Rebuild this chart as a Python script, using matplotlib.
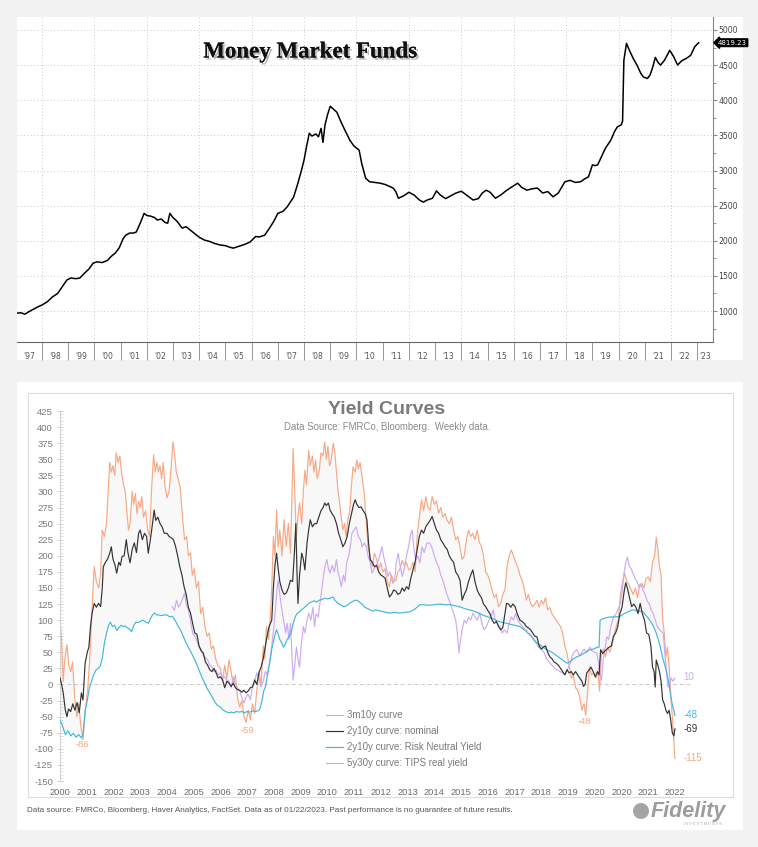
import numpy as np
import matplotlib
matplotlib.use("Agg")
import matplotlib.pyplot as plt
from matplotlib import patheffects
from matplotlib.patches import Rectangle, Ellipse

plt.rcParams["axes.unicode_minus"] = False

# ---- top panel: money market fund assets ($bn) ----
mmf_pts = [
    (1997.05, 970), (1997.2, 975), (1997.35, 955), (1997.5, 990), (1997.7, 1030), (1997.85, 1060),
    (1998.0, 1085), (1998.2, 1130), (1998.4, 1200), (1998.6, 1250), (1998.8, 1360), (1998.95, 1440),
    (1999.1, 1470), (1999.3, 1460), (1999.45, 1470), (1999.6, 1530), (1999.8, 1600), (1999.95, 1680),
    (2000.1, 1700), (2000.3, 1690), (2000.5, 1720), (2000.65, 1780), (2000.8, 1825), (2000.95, 1900),
    (2001.1, 2030), (2001.2, 2080), (2001.35, 2110), (2001.5, 2110), (2001.6, 2125), (2001.75, 2250),
    (2001.9, 2390), (2002.0, 2360), (2002.15, 2350), (2002.3, 2330), (2002.4, 2295), (2002.55, 2310),
    (2002.7, 2260), (2002.8, 2250), (2002.88, 2390), (2003.0, 2330), (2003.15, 2280), (2003.35, 2180),
    (2003.5, 2200), (2003.7, 2140), (2004.0, 2050), (2004.2, 2010), (2004.4, 1990), (2004.6, 1960),
    (2004.8, 1940), (2005.0, 1930), (2005.15, 1910), (2005.3, 1895), (2005.5, 1920), (2005.75, 1950),
    (2005.95, 1985), (2006.15, 2060), (2006.3, 2055), (2006.5, 2080), (2006.7, 2190), (2006.85, 2280),
    (2007.0, 2390), (2007.2, 2420), (2007.35, 2480), (2007.6, 2620), (2007.75, 2800), (2007.9, 3000),
    (2008.0, 3150), (2008.1, 3350), (2008.2, 3530), (2008.3, 3490), (2008.45, 3520), (2008.55, 3480),
    (2008.65, 3600), (2008.72, 3400), (2008.8, 3650), (2008.9, 3800), (2009.0, 3915), (2009.1, 3880),
    (2009.25, 3830), (2009.4, 3700), (2009.55, 3580), (2009.75, 3430), (2009.9, 3350), (2010.1, 3290),
    (2010.2, 3100), (2010.35, 2890), (2010.5, 2840), (2010.7, 2830), (2010.9, 2820), (2011.1, 2800),
    (2011.4, 2750), (2011.5, 2700), (2011.6, 2605), (2011.8, 2640), (2012.0, 2690), (2012.2, 2650),
    (2012.4, 2580), (2012.55, 2550), (2012.7, 2580), (2012.9, 2605), (2013.05, 2710), (2013.2, 2650),
    (2013.4, 2600), (2013.6, 2640), (2013.8, 2680), (2014.0, 2705), (2014.2, 2650), (2014.45, 2580),
    (2014.65, 2600), (2014.8, 2680), (2014.95, 2720), (2015.1, 2690), (2015.3, 2605), (2015.5, 2650),
    (2015.7, 2710), (2015.9, 2760), (2016.15, 2820), (2016.3, 2760), (2016.5, 2720), (2016.7, 2740),
    (2016.9, 2750), (2017.1, 2680), (2017.3, 2700), (2017.5, 2625), (2017.7, 2680), (2017.95, 2840),
    (2018.15, 2860), (2018.35, 2830), (2018.55, 2840), (2018.7, 2880), (2018.85, 2910), (2019.0, 3080),
    (2019.1, 3070), (2019.2, 3080), (2019.35, 3200), (2019.5, 3320), (2019.7, 3430), (2019.85, 3560),
    (2019.95, 3620), (2020.1, 3650), (2020.15, 3700), (2020.2, 4570), (2020.3, 4810), (2020.4, 4720),
    (2020.55, 4600), (2020.7, 4500), (2020.85, 4380), (2020.95, 4330), (2021.1, 4310), (2021.2, 4360),
    (2021.3, 4470), (2021.4, 4610), (2021.5, 4540), (2021.6, 4500), (2021.75, 4570), (2021.95, 4710),
    (2022.1, 4620), (2022.25, 4500), (2022.4, 4560), (2022.6, 4600), (2022.75, 4640), (2022.9, 4760),
    (2023.05, 4819.23),
]
mmf_last = "4819.23"
mmf_year_labels = ["'97", "'98", "'99", "'00", "'01", "'02", "'03", "'04", "'05", "'06", "'07", "'08", "'09",
                   "'10", "'11", "'12", "'13", "'14", "'15", "'16", "'17", "'18", "'19", "'20", "'21", "'22", "'23"]

# ---- bottom panel: yield curve spreads (bp) ----
m3y10_pts = [
    (2000.00, 100), (2000.06, 69), (2000.12, 5), (2000.18, 40), (2000.26, 62), (2000.33, 30), (2000.40, 20),
    (2000.47, 35), (2000.55, -20), (2000.63, -50), (2000.70, -30), (2000.78, -65), (2000.86, -86), (2000.95, -40),
    (2001.04, -5), (2001.12, 45), (2001.20, 120), (2001.28, 183), (2001.36, 160), (2001.45, 150), (2001.52, 175),
    (2001.58, 240), (2001.66, 230), (2001.74, 250), (2001.80, 300), (2001.86, 345), (2001.92, 330), (2001.98, 340),
    (2002.05, 325), (2002.10, 360), (2002.17, 345), (2002.24, 355), (2002.30, 330), (2002.38, 310), (2002.44, 300),
    (2002.50, 270), (2002.56, 240), (2002.62, 250), (2002.70, 300), (2002.76, 280), (2002.82, 297), (2002.88, 265),
    (2002.94, 285), (2003.00, 275), (2003.06, 292), (2003.12, 260), (2003.20, 270), (2003.28, 240), (2003.35, 230),
    (2003.42, 300), (2003.50, 357), (2003.56, 330), (2003.62, 345), (2003.68, 330), (2003.74, 340), (2003.80, 320),
    (2003.86, 345), (2003.92, 310), (2004.00, 290), (2004.08, 300), (2004.16, 340), (2004.22, 377), (2004.28, 360),
    (2004.35, 330), (2004.42, 320), (2004.50, 305), (2004.58, 260), (2004.66, 225), (2004.74, 230), (2004.80, 200),
    (2004.88, 205), (2004.95, 170), (2005.02, 180), (2005.10, 150), (2005.18, 160), (2005.26, 110), (2005.34, 120),
    (2005.42, 90), (2005.50, 75), (2005.58, 80), (2005.66, 55), (2005.74, 60), (2005.82, 40), (2005.90, 30),
    (2006.00, 25), (2006.08, 5), (2006.16, 30), (2006.24, 10), (2006.32, 38), (2006.40, 20), (2006.48, 0),
    (2006.56, 15), (2006.64, -20), (2006.72, -35), (2006.80, -25), (2006.88, -50), (2006.96, -59), (2007.04, -40),
    (2007.12, -55), (2007.20, -30), (2007.28, -45), (2007.36, -10), (2007.44, 20), (2007.52, 0), (2007.60, 60),
    (2007.66, 40), (2007.72, 90), (2007.80, 70), (2007.86, 100), (2007.92, 150), (2007.98, 230), (2008.04, 200),
    (2008.10, 271), (2008.16, 214), (2008.22, 240), (2008.30, 200), (2008.38, 256), (2008.46, 215), (2008.54, 250),
    (2008.62, 204), (2008.68, 300), (2008.72, 367), (2008.78, 300), (2008.84, 230), (2008.90, 260), (2008.96, 282),
    (2009.04, 250), (2009.10, 300), (2009.16, 333), (2009.22, 310), (2009.30, 364), (2009.36, 340), (2009.44, 355),
    (2009.50, 330), (2009.56, 349), (2009.62, 320), (2009.70, 333), (2009.76, 360), (2009.84, 355), (2009.90, 377),
    (2009.96, 350), (2010.02, 370), (2010.08, 340), (2010.14, 349), (2010.22, 375), (2010.28, 360), (2010.34, 330),
    (2010.40, 300), (2010.46, 282), (2010.52, 260), (2010.58, 240), (2010.64, 250), (2010.70, 230), (2010.76, 256),
    (2010.84, 270), (2010.90, 310), (2010.96, 338), (2011.04, 330), (2011.10, 349), (2011.16, 335), (2011.22, 345),
    (2011.30, 322), (2011.38, 297), (2011.46, 250), (2011.52, 214), (2011.60, 200), (2011.68, 183), (2011.76, 204),
    (2011.84, 195), (2011.92, 180), (2012.00, 189), (2012.08, 175), (2012.16, 180), (2012.24, 160), (2012.32, 152),
    (2012.40, 170), (2012.48, 160), (2012.56, 162), (2012.64, 175), (2012.72, 180), (2012.80, 193), (2012.88, 185),
    (2012.96, 190), (2013.04, 178), (2013.12, 180), (2013.20, 190), (2013.28, 175), (2013.36, 230), (2013.44, 260),
    (2013.52, 287), (2013.60, 270), (2013.68, 292), (2013.76, 275), (2013.84, 271), (2013.92, 292), (2014.00, 280),
    (2014.08, 285), (2014.16, 266), (2014.24, 275), (2014.32, 260), (2014.40, 266), (2014.48, 255), (2014.56, 250),
    (2014.64, 260), (2014.72, 240), (2014.80, 225), (2014.88, 230), (2014.96, 214), (2015.04, 194), (2015.12, 200),
    (2015.20, 225), (2015.28, 240), (2015.36, 230), (2015.44, 235), (2015.52, 225), (2015.60, 240), (2015.68, 221),
    (2015.76, 215), (2015.84, 200), (2015.92, 175), (2016.00, 170), (2016.08, 160), (2016.16, 147), (2016.24, 135),
    (2016.32, 140), (2016.40, 121), (2016.48, 126), (2016.56, 140), (2016.64, 147), (2016.72, 183), (2016.80, 200),
    (2016.88, 209), (2016.96, 200), (2017.04, 190), (2017.12, 183), (2017.20, 170), (2017.28, 162), (2017.36, 150),
    (2017.44, 131), (2017.52, 140), (2017.60, 126), (2017.68, 121), (2017.76, 125), (2017.84, 131), (2017.92, 120),
    (2018.00, 131), (2018.08, 125), (2018.16, 135), (2018.24, 116), (2018.32, 120), (2018.40, 110), (2018.48, 105),
    (2018.56, 100), (2018.64, 95), (2018.72, 90), (2018.80, 80), (2018.88, 60), (2018.96, 49), (2019.04, 30),
    (2019.12, 10), (2019.20, 15), (2019.28, -5), (2019.36, -9), (2019.44, -20), (2019.52, -40), (2019.60, -30),
    (2019.66, -48), (2019.72, -20), (2019.80, 27), (2019.88, 15), (2019.96, 18), (2020.04, 10), (2020.12, 20),
    (2020.18, -10), (2020.24, 43), (2020.32, 55), (2020.40, 43), (2020.48, 58), (2020.56, 50), (2020.64, 60),
    (2020.72, 75), (2020.80, 90), (2020.88, 100), (2020.96, 140), (2021.04, 160), (2021.12, 173), (2021.20, 160),
    (2021.28, 155), (2021.36, 147), (2021.44, 140), (2021.52, 150), (2021.60, 135), (2021.68, 155), (2021.76, 157),
    (2021.84, 150), (2021.92, 165), (2022.00, 167), (2022.08, 160), (2022.16, 190), (2022.24, 200), (2022.30, 229),
    (2022.36, 210), (2022.42, 183), (2022.48, 170), (2022.54, 100), (2022.60, 80), (2022.66, 43), (2022.72, 58),
    (2022.78, 30), (2022.84, -13), (2022.90, -50), (2022.96, -90), (2023.00, -115),
]
nominal_pts = [
    (2000.00, 10), (2000.06, 0), (2000.12, -13), (2000.20, -40), (2000.26, -50), (2000.32, -38), (2000.40, -42),
    (2000.48, -30), (2000.56, -40), (2000.64, -28), (2000.72, -44), (2000.80, -13), (2000.86, -24), (2000.94, 33),
    (2001.02, 50), (2001.08, 58), (2001.14, 90), (2001.20, 111), (2001.28, 126), (2001.36, 120), (2001.44, 126),
    (2001.52, 121), (2001.58, 150), (2001.62, 183), (2001.70, 190), (2001.78, 195), (2001.86, 204), (2001.92, 214),
    (2001.98, 195), (2002.06, 185), (2002.12, 173), (2002.20, 190), (2002.26, 185), (2002.32, 199), (2002.40, 200),
    (2002.48, 225), (2002.54, 205), (2002.62, 189), (2002.70, 210), (2002.78, 220), (2002.86, 205), (2002.94, 235),
    (2003.00, 240), (2003.08, 225), (2003.16, 235), (2003.24, 230), (2003.30, 204), (2003.38, 225), (2003.46, 250),
    (2003.52, 271), (2003.58, 255), (2003.66, 260), (2003.74, 250), (2003.82, 245), (2003.90, 235), (2004.00, 235),
    (2004.08, 230), (2004.16, 228), (2004.24, 225), (2004.32, 215), (2004.40, 200), (2004.48, 183), (2004.56, 170),
    (2004.64, 152), (2004.72, 140), (2004.80, 120), (2004.88, 111), (2004.96, 95), (2005.04, 80), (2005.12, 78),
    (2005.20, 60), (2005.28, 52), (2005.36, 49), (2005.44, 35), (2005.52, 30), (2005.60, 23), (2005.68, 20),
    (2005.76, 25), (2005.84, 18), (2005.92, 10), (2006.00, 12), (2006.08, 7), (2006.16, -5), (2006.24, 5),
    (2006.32, 2), (2006.40, -3), (2006.48, 2), (2006.56, -5), (2006.64, -8), (2006.72, -9), (2006.80, -12),
    (2006.88, -9), (2006.96, -13), (2007.04, -10), (2007.12, -5), (2007.20, -4), (2007.28, 7), (2007.36, 0),
    (2007.44, 18), (2007.52, 27), (2007.60, 40), (2007.68, 60), (2007.74, 74), (2007.82, 90), (2007.92, 100),
    (2007.98, 150), (2008.04, 185), (2008.10, 204), (2008.16, 180), (2008.22, 160), (2008.30, 147), (2008.38, 140),
    (2008.46, 142), (2008.54, 150), (2008.62, 162), (2008.70, 160), (2008.76, 200), (2008.82, 250), (2008.86, 180),
    (2008.90, 126), (2008.96, 170), (2009.04, 204), (2009.10, 195), (2009.16, 178), (2009.24, 220), (2009.30, 240),
    (2009.36, 256), (2009.44, 245), (2009.52, 250), (2009.60, 250), (2009.68, 260), (2009.76, 270), (2009.84, 275),
    (2009.90, 282), (2009.96, 278), (2010.04, 282), (2010.10, 271), (2010.18, 265), (2010.26, 260), (2010.34, 250),
    (2010.42, 235), (2010.50, 225), (2010.58, 214), (2010.66, 220), (2010.74, 230), (2010.82, 250), (2010.90, 265),
    (2010.98, 280), (2011.04, 287), (2011.10, 280), (2011.18, 275), (2011.26, 276), (2011.34, 270), (2011.42, 265),
    (2011.48, 256), (2011.54, 220), (2011.60, 194), (2011.68, 190), (2011.76, 183), (2011.84, 185), (2011.92, 175),
    (2012.00, 170), (2012.08, 168), (2012.16, 165), (2012.24, 150), (2012.32, 136), (2012.40, 140), (2012.48, 147),
    (2012.56, 145), (2012.64, 140), (2012.72, 142), (2012.80, 150), (2012.88, 145), (2012.96, 152), (2013.04, 148),
    (2013.12, 165), (2013.20, 178), (2013.28, 190), (2013.36, 210), (2013.44, 230), (2013.52, 240), (2013.60, 235),
    (2013.68, 245), (2013.76, 250), (2013.84, 255), (2013.92, 261), (2014.00, 250), (2014.08, 240), (2014.16, 235),
    (2014.24, 225), (2014.32, 220), (2014.40, 214), (2014.48, 210), (2014.56, 200), (2014.64, 194), (2014.72, 190),
    (2014.80, 175), (2014.88, 170), (2014.96, 162), (2015.04, 131), (2015.12, 140), (2015.20, 147), (2015.28, 160),
    (2015.36, 170), (2015.44, 178), (2015.52, 160), (2015.60, 147), (2015.68, 140), (2015.76, 135), (2015.84, 125),
    (2015.92, 121), (2016.00, 115), (2016.08, 110), (2016.16, 100), (2016.24, 95), (2016.32, 98), (2016.40, 90),
    (2016.48, 85), (2016.56, 88), (2016.64, 110), (2016.70, 126), (2016.78, 125), (2016.86, 120), (2016.94, 125),
    (2017.02, 121), (2017.10, 110), (2017.20, 100), (2017.28, 98), (2017.36, 95), (2017.44, 90), (2017.52, 88),
    (2017.60, 85), (2017.68, 80), (2017.76, 75), (2017.84, 74), (2017.92, 60), (2018.00, 55), (2018.08, 58),
    (2018.16, 60), (2018.24, 50), (2018.32, 43), (2018.40, 40), (2018.48, 35), (2018.56, 33), (2018.64, 30),
    (2018.72, 25), (2018.80, 20), (2018.88, 15), (2018.96, 23), (2019.04, 18), (2019.12, 20), (2019.20, 15),
    (2019.28, 20), (2019.36, 15), (2019.44, 10), (2019.52, 5), (2019.58, -3), (2019.64, 0), (2019.70, 18),
    (2019.78, 22), (2019.86, 27), (2019.94, 20), (2020.02, 12), (2020.10, 20), (2020.16, 15), (2020.22, 54),
    (2020.30, 48), (2020.38, 52), (2020.46, 55), (2020.54, 58), (2020.62, 60), (2020.70, 75), (2020.78, 80),
    (2020.86, 90), (2020.94, 110), (2021.02, 120), (2021.10, 145), (2021.16, 158), (2021.22, 150), (2021.30, 135),
    (2021.38, 121), (2021.46, 125), (2021.54, 120), (2021.62, 110), (2021.70, 126), (2021.78, 110), (2021.86, 100),
    (2021.94, 80), (2022.02, 78), (2022.10, 60), (2022.16, 27), (2022.22, 20), (2022.26, -4), (2022.30, 38),
    (2022.36, 30), (2022.42, 20), (2022.48, 5), (2022.54, -24), (2022.60, -30), (2022.66, -40), (2022.72, -45),
    (2022.78, -40), (2022.84, -55), (2022.90, -75), (2022.96, -80), (2023.00, -69),
]
rny_pts = [
    (2000.00, -55), (2000.10, -65), (2000.20, -78), (2000.30, -72), (2000.40, -80), (2000.50, -76), (2000.60, -82),
    (2000.70, -78), (2000.80, -83), (2000.86, -78), (2000.94, -40), (2001.02, -25), (2001.10, -5), (2001.18, 5),
    (2001.26, 15), (2001.34, 22), (2001.42, 25), (2001.50, 28), (2001.58, 40), (2001.66, 64), (2001.74, 80),
    (2001.82, 92), (2001.88, 97), (2001.96, 90), (2002.04, 92), (2002.12, 84), (2002.20, 88), (2002.28, 92),
    (2002.36, 90), (2002.44, 91), (2002.52, 88), (2002.60, 86), (2002.68, 82), (2002.76, 92), (2002.84, 97),
    (2002.92, 96), (2003.00, 98), (2003.10, 100), (2003.20, 97), (2003.30, 95), (2003.38, 102), (2003.46, 108),
    (2003.54, 111), (2003.62, 108), (2003.70, 108), (2003.80, 107), (2003.90, 108), (2004.00, 108), (2004.10, 105),
    (2004.20, 106), (2004.30, 100), (2004.40, 92), (2004.50, 85), (2004.60, 76), (2004.70, 66), (2004.80, 58),
    (2004.90, 50), (2005.00, 42), (2005.10, 33), (2005.20, 22), (2005.30, 12), (2005.40, 3), (2005.50, -6),
    (2005.60, -13), (2005.70, -20), (2005.80, -28), (2005.90, -33), (2006.00, -35), (2006.10, -40), (2006.20, -42),
    (2006.30, -44), (2006.40, -43), (2006.50, -44), (2006.60, -42), (2006.70, -43), (2006.80, -42), (2006.90, -44),
    (2007.00, -42), (2007.10, -43), (2007.20, -41), (2007.30, -42), (2007.40, -41), (2007.48, -38), (2007.56, -24),
    (2007.62, -10), (2007.68, -4), (2007.74, 10), (2007.80, 25), (2007.86, 38), (2007.92, 55), (2008.00, 70),
    (2008.06, 80), (2008.10, 85), (2008.16, 78), (2008.22, 70), (2008.30, 64), (2008.36, 58), (2008.42, 62),
    (2008.48, 69), (2008.56, 74), (2008.64, 80), (2008.72, 95), (2008.80, 105), (2008.86, 110), (2008.94, 112),
    (2009.02, 116), (2009.10, 118), (2009.20, 122), (2009.30, 126), (2009.40, 128), (2009.50, 130), (2009.60, 128),
    (2009.70, 131), (2009.80, 132), (2009.90, 134), (2010.00, 133), (2010.10, 134), (2010.20, 136), (2010.30, 130),
    (2010.40, 126), (2010.50, 124), (2010.60, 121), (2010.70, 122), (2010.80, 125), (2010.90, 128), (2011.00, 130),
    (2011.10, 131), (2011.20, 128), (2011.30, 125), (2011.40, 120), (2011.50, 118), (2011.60, 116), (2011.70, 114),
    (2011.80, 116), (2011.90, 115), (2012.00, 114), (2012.10, 113), (2012.20, 112), (2012.34, 111), (2012.50, 112),
    (2012.70, 111), (2012.90, 112), (2013.10, 113), (2013.30, 118), (2013.46, 124), (2013.60, 124), (2013.80, 123),
    (2014.00, 124), (2014.20, 125), (2014.40, 124), (2014.60, 124), (2014.80, 122), (2015.00, 120), (2015.20, 117),
    (2015.40, 115), (2015.60, 112), (2015.80, 108), (2016.00, 105), (2016.20, 102), (2016.40, 98), (2016.60, 96),
    (2016.80, 94), (2017.00, 92), (2017.20, 90), (2017.40, 84), (2017.60, 76), (2017.80, 66), (2018.00, 60),
    (2018.20, 54), (2018.40, 50), (2018.60, 44), (2018.80, 38), (2018.96, 33), (2019.10, 36), (2019.20, 40),
    (2019.33, 43), (2019.50, 46), (2019.65, 50), (2019.82, 54), (2019.95, 55), (2020.10, 58), (2020.16, 58),
    (2020.20, 100), (2020.30, 102), (2020.45, 104), (2020.60, 105), (2020.75, 105), (2020.95, 106), (2021.10, 110),
    (2021.25, 113), (2021.40, 116), (2021.55, 115), (2021.70, 114), (2021.80, 113), (2021.90, 108), (2022.00, 103),
    (2022.10, 97), (2022.20, 90), (2022.30, 80), (2022.40, 66), (2022.45, 58), (2022.55, 40), (2022.62, 30),
    (2022.70, 18), (2022.78, 0), (2022.85, -20), (2022.92, -35), (2022.96, -40), (2023.00, -48),
]
tips_pts = [
    (2004.20, 121), (2004.28, 115), (2004.36, 131), (2004.44, 120), (2004.52, 126), (2004.60, 135), (2004.66, 142),
    (2004.72, 125), (2004.80, 116), (2004.88, 100), (2004.96, 80), (2005.04, 75), (2005.12, 68), (2005.20, 58),
    (2005.28, 55), (2005.36, 45), (2005.44, 42), (2005.52, 38), (2005.60, 30), (2005.68, 27), (2005.76, 20),
    (2005.84, 22), (2005.92, 15), (2006.00, 18), (2006.08, 10), (2006.16, 12), (2006.24, 7), (2006.32, 5),
    (2006.40, -5), (2006.48, 12), (2006.56, 0), (2006.64, -5), (2006.72, -10), (2006.80, -20), (2006.88, -29),
    (2006.96, -19), (2007.04, -15), (2007.12, -24), (2007.20, -4), (2007.28, 5), (2007.36, 18), (2007.44, 10),
    (2007.52, -4), (2007.60, 5), (2007.68, 20), (2007.76, 15), (2007.84, 33), (2007.92, 60), (2008.00, 90),
    (2008.06, 120), (2008.12, 150), (2008.16, 162), (2008.22, 140), (2008.28, 121), (2008.36, 100), (2008.44, 80),
    (2008.50, 95), (2008.56, 70), (2008.62, 95), (2008.68, 40), (2008.72, 7), (2008.78, 30), (2008.84, 58),
    (2008.90, 40), (2008.96, 27), (2009.02, 60), (2009.10, 90), (2009.16, 80), (2009.24, 100), (2009.30, 111),
    (2009.38, 100), (2009.46, 120), (2009.52, 90), (2009.58, 110), (2009.66, 105), (2009.72, 126), (2009.80, 150),
    (2009.86, 170), (2009.92, 185), (2009.98, 194), (2010.04, 180), (2010.10, 173), (2010.18, 185), (2010.26, 175),
    (2010.34, 194), (2010.40, 175), (2010.46, 165), (2010.52, 152), (2010.60, 170), (2010.66, 160), (2010.72, 189),
    (2010.80, 200), (2010.86, 215), (2010.92, 235), (2011.00, 240), (2011.08, 245), (2011.16, 230), (2011.24, 225),
    (2011.30, 214), (2011.38, 220), (2011.46, 214), (2011.52, 200), (2011.60, 190), (2011.67, 173), (2011.74, 180),
    (2011.80, 183), (2011.88, 190), (2011.96, 200), (2012.04, 214), (2012.10, 200), (2012.18, 185), (2012.27, 168),
    (2012.34, 175), (2012.45, 157), (2012.52, 165), (2012.58, 190), (2012.65, 204), (2012.72, 185), (2012.80, 168),
    (2012.88, 180), (2012.96, 200), (2013.04, 215), (2013.12, 235), (2013.17, 240), (2013.24, 210), (2013.30, 194),
    (2013.38, 200), (2013.46, 189), (2013.54, 214), (2013.62, 205), (2013.72, 220), (2013.82, 220), (2013.90, 214),
    (2014.00, 200), (2014.08, 190), (2014.16, 183), (2014.24, 170), (2014.32, 162), (2014.40, 150), (2014.47, 140),
    (2014.56, 131), (2014.64, 120), (2014.72, 111), (2014.80, 100), (2014.86, 80), (2014.92, 49), (2014.98, 70),
    (2015.04, 85), (2015.12, 100), (2015.20, 95), (2015.28, 105), (2015.36, 100), (2015.45, 111), (2015.52, 105),
    (2015.60, 100), (2015.70, 111), (2015.78, 95), (2015.86, 85), (2015.95, 90), (2016.04, 100), (2016.12, 105),
    (2016.20, 116), (2016.28, 100), (2016.36, 95), (2016.45, 90), (2016.54, 80), (2016.62, 85), (2016.72, 80),
    (2016.80, 95), (2016.88, 105), (2016.96, 100), (2017.04, 110), (2017.12, 100), (2017.20, 95), (2017.30, 90),
    (2017.40, 85), (2017.50, 80), (2017.60, 78), (2017.70, 70), (2017.80, 65), (2017.90, 58), (2018.00, 55),
    (2018.10, 50), (2018.20, 40), (2018.30, 35), (2018.40, 30), (2018.50, 25), (2018.60, 23), (2018.70, 20),
    (2018.80, 18), (2018.90, 15), (2019.00, 25), (2019.10, 35), (2019.14, 43), (2019.22, 50), (2019.33, 54),
    (2019.42, 45), (2019.50, 49), (2019.60, 55), (2019.70, 50), (2019.82, 58), (2019.90, 52), (2020.00, 50),
    (2020.07, 49), (2020.14, 35), (2020.20, 15), (2020.25, 7), (2020.32, 40), (2020.40, 60), (2020.45, 74),
    (2020.52, 70), (2020.60, 90), (2020.70, 105), (2020.80, 110), (2020.90, 120), (2020.96, 126), (2021.04, 150),
    (2021.10, 175), (2021.16, 190), (2021.22, 198), (2021.28, 185), (2021.36, 180), (2021.43, 173), (2021.50, 165),
    (2021.58, 160), (2021.66, 150), (2021.74, 155), (2021.80, 147), (2021.88, 140), (2021.96, 130), (2022.04, 125),
    (2022.12, 115), (2022.18, 111), (2022.26, 100), (2022.34, 90), (2022.42, 85), (2022.50, 82), (2022.56, 80),
    (2022.62, 50), (2022.68, 20), (2022.74, -4), (2022.80, 0), (2022.86, 10), (2022.92, 5), (2023.00, 10),
]
yc_year_labels = ["2000", "2001", "2002", "2003", "2004", "2005", "2006", "2007", "2008", "2009", "2010", "2011",
                  "2012", "2013", "2014", "2015", "2016", "2017", "2018", "2019", "2020", "2020", "2021", "2022"]
series_names = ["3m10y curve", "2y10y curve: nominal", "2y10y curve: Risk Neutral Yield", "5y30y curve: TIPS real yield"]
series_colors = ["#f5a985", "#333333", "#45b6da", "#cdaaf2"]
trough_labels = [(2000.82, -94, "-86"), (2007.0, -72, "-59"), (2019.63, -57, "-48")]
end_labels = [("10", 12, 3), ("-48", -47, 2), ("-69", -69, 1), ("-115", -114, 0)]

W, H = 758, 847
fig = plt.figure(figsize=(W / 100, H / 100), dpi=100)
fig.patch.set_facecolor("#f2f2f2")

def box(x0, y0, x1, y1, **kw):
    # pixel box (top-left origin) -> figure fraction
    return Rectangle((x0 / W, 1 - y1 / H), (x1 - x0) / W, (y1 - y0) / H, transform=fig.transFigure, **kw)

fig.patches.append(box(17, 17, 743, 360, facecolor="white", edgecolor="none", zorder=-2))
fig.patches.append(box(17, 382, 743, 830, facecolor="white", edgecolor="none", zorder=-2))
fig.patches.append(box(28, 393, 733, 797, facecolor="white", edgecolor="#dcdcdc", linewidth=0.8, zorder=-1))

# ---------------- top chart ----------------
ax1 = fig.add_axes([17 / W, 1 - 342 / H, (713 - 17) / W, (342 - 17) / H])
ax1.set_facecolor("none")
mmf = np.array(mmf_pts)
ax1.plot(mmf[:, 0], mmf[:, 1], color="black", lw=1.1, zorder=3)
x_left, x_right = 1997.05, 2023.6
ax1.set_xlim(x_left, x_right)
ax1.set_ylim(559, 5185)

for s in ["left", "top"]:
    ax1.spines[s].set_visible(False)
ax1.spines["right"].set_color("#888888")
ax1.spines["bottom"].set_color("#666666")
ax1.spines["right"].set_linewidth(0.8)
ax1.spines["bottom"].set_linewidth(0.8)

ax1.yaxis.tick_right()
ax1.set_yticks(np.arange(1000, 5001, 500))
ax1.set_yticks(np.arange(750, 5001, 250), minor=True)
ax1.tick_params(axis="y", which="major", length=3, color="#888888", labelsize=5.6, labelcolor="#444444", pad=1)
ax1.tick_params(axis="y", which="minor", length=2, color="#888888")

year_edges = np.arange(1998, 2024)
ax1.set_xticks(year_edges)
ax1.set_xticklabels([])
mids = np.concatenate([[(x_left + 1998) / 2], year_edges[:-1] + 0.5, [(2023 + x_right) / 2]])
ax1.set_xticks(mids, minor=True)
ax1.set_xticklabels(mmf_year_labels, minor=True)
ax1.tick_params(axis="x", which="major", length=13, color="#888888", width=0.6)
ax1.tick_params(axis="x", which="minor", length=0, labelsize=5.5, labelcolor="#555555", pad=7)

for yv in np.arange(1000, 5001, 500):
    ax1.axhline(yv, color="#b8b8b8", lw=0.6, ls=(0, (1, 3)), zorder=1)
for xv in np.arange(1998, 2023, 2):
    ax1.axvline(xv, color="#b8b8b8", lw=0.6, ls=(0, (1, 3)), zorder=1)

ax1.text(1.007, mmf[-1, 1], mmf_last, transform=ax1.get_yaxis_transform(), fontsize=5.0, color="white",
         va="center", ha="left", bbox=dict(boxstyle="larrow,pad=0.12", fc="black", ec="black"), zorder=5,
         clip_on=False)

title = fig.text(310 / W, 1 - 52 / H, "Money Market Funds", fontsize=16.5, fontweight="bold",
                 family="Liberation Serif", color="#111111", ha="center", va="center")
title.set_path_effects([patheffects.withSimplePatchShadow(offset=(1.5, -1.5), alpha=0.3), patheffects.Normal()])

# ---------------- bottom chart ----------------
ax2 = fig.add_axes([60 / W, 1 - 781 / H, (691 - 60) / W, (781 - 411) / H])
ax2.set_facecolor("none")
ax2.set_xlim(2000, 2023.6)
ax2.set_ylim(-150, 425)

arrs = [np.array(p) for p in (m3y10_pts, nominal_pts, rny_pts, tips_pts)]
# faint shading between the 3m10y and risk neutral curves
poly_x = np.concatenate([arrs[0][:, 0], arrs[2][::-1, 0]])
poly_y = np.concatenate([arrs[0][:, 1], arrs[2][::-1, 1]])
ax2.fill(poly_x, poly_y, color="#f8f8f8", lw=0, zorder=1)
ax2.axhline(0, color="#c8c8c8", lw=0.7, ls=(0, (4, 3)), zorder=1.5)

zorders = [2, 4, 3, 2.5]
for a, name, c, z in zip(arrs, series_names, series_colors, zorders):
    ax2.plot(a[:, 0], a[:, 1], color=c, lw=0.85, label=name, zorder=z)

for s in ["top", "right", "bottom"]:
    ax2.spines[s].set_visible(False)
ax2.spines["left"].set_color("#d0d0d0")
ax2.spines["left"].set_linewidth(0.7)
ax2.set_yticks(np.arange(-150, 426, 25))
ax2.set_yticks(np.arange(-150, 426, 5), minor=True)
ax2.tick_params(axis="y", which="major", direction="inout", length=4, color="#c8c8c8", width=0.6,
                labelsize=6.8, labelcolor="#7a7a7a", pad=3)
ax2.tick_params(axis="y", which="minor", direction="in", length=1.8, color="#d5d5d5", width=0.5)
ax2.set_xticks(np.arange(2000, 2024))
ax2.set_xticklabels(yc_year_labels)
ax2.tick_params(axis="x", length=0, labelsize=6.7, labelcolor="#6a6a6a", pad=5)
for lab in ax2.get_xticklabels() + ax2.get_yticklabels():
    lab.set_family("Liberation Sans")

for x, y, t in trough_labels:
    ax2.text(x, y, t, color=series_colors[0], fontsize=6.8, ha="center", va="center", family="Liberation Sans")
for t, y, i in end_labels:
    ax2.text(2023.32, y, t, color=series_colors[i], fontsize=7.0, ha="left", va="center",
             family="Liberation Sans", clip_on=False)

leg = ax2.legend(loc="upper left", bbox_to_anchor=(326 / W, 1 - 710 / H), bbox_transform=fig.transFigure,
                 frameon=False, handlelength=1.7, handletextpad=0.5, labelspacing=0.62,
                 borderpad=0, borderaxespad=0, prop={"family": "Liberation Sans", "size": 7})
for txt in leg.get_texts():
    txt.set_color("#7a7a7a")

fig.text(387 / W, 1 - 409 / H, "Yield Curves", fontsize=14, fontweight="bold", color="#7b7b7b",
         family="Liberation Sans", ha="center", va="center")
fig.text(387 / W, 1 - 427 / H, "Data Source: FMRCo, Bloomberg.  Weekly data.", fontsize=6.9, color="#8a8a8a",
         family="Liberation Sans", ha="center", va="center")
fig.text(27 / W, 1 - 810 / H, "Data source: FMRCo, Bloomberg, Haver Analytics, FactSet. Data as of 01/22/2023. "
         "Past performance is no guarantee of future results.", fontsize=5.9, color="#555555",
         family="Liberation Sans", ha="left", va="center")

# Fidelity logo
fig.patches.append(Ellipse((641 / W, 1 - 811 / H), 16 / W, 16 / H, transform=fig.transFigure,
                           facecolor="#a5a5a5", edgecolor="none", zorder=2))
fig.text(651 / W, 1 - 811 / H, "Fidelity", fontsize=15.5, fontweight="bold", fontstyle="italic",
         color="#9d9d9d", family="Liberation Sans", ha="left", va="center")
fig.text(702 / W, 1 - 824 / H, "I N V E S T M E N T S", fontsize=2.8, color="#aaaaaa",
         family="Liberation Sans", ha="center", va="center")

fig.savefig("out.png", dpi=100, facecolor=fig.get_facecolor())
